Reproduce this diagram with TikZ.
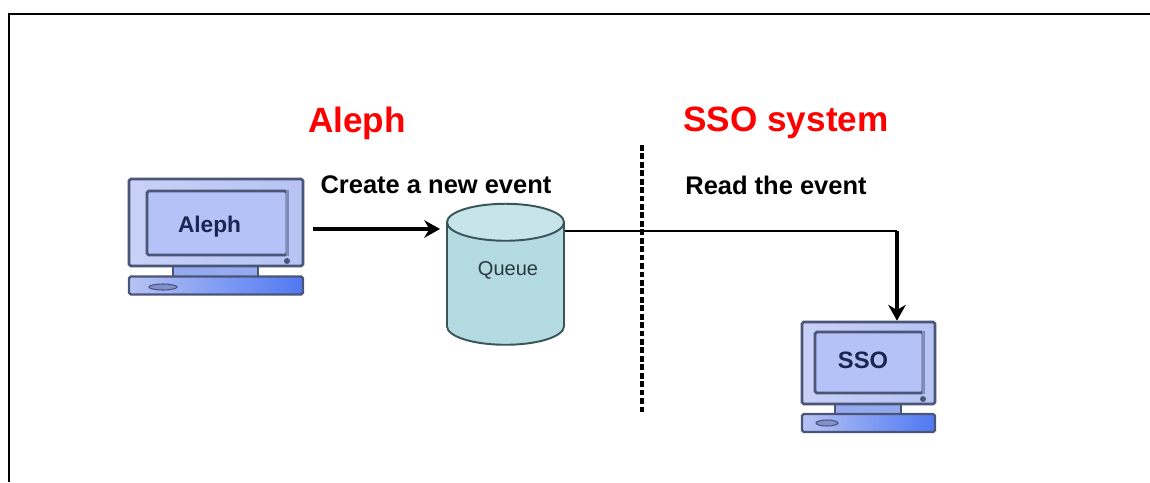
\documentclass[tikz,border=0pt]{standalone}
\usepackage{fontspec}
\setmainfont{Liberation Sans}
\usetikzlibrary{arrows.meta,shapes.geometric}
\definecolor{monitoredge}{HTML}{4A5578}
\definecolor{monitorfill}{HTML}{B6C3F4}
\definecolor{monitorlight}{HTML}{C8D1F6}
\definecolor{screenfill}{HTML}{B4C2F8}
\definecolor{screenshade}{HTML}{7F8CB8}
\definecolor{basedeep}{HTML}{4F78F2}
\definecolor{neckfill}{HTML}{96AAF0}
\definecolor{labelnavy}{HTML}{1C2450}
\definecolor{queueedge}{HTML}{3A5558}
\definecolor{queuebody}{HTML}{B4DBE2}
\definecolor{queuetop}{HTML}{C6E4E9}
\tikzset{
  monitor/.style={draw=monitoredge,line width=1.5pt,rounded corners=1pt,left color=monitorlight,right color=monitorfill,inner sep=0pt},
  screen/.style={draw=monitoredge,line width=1.6pt,rounded corners=1pt,fill=screenfill,inner sep=0pt},
  neck/.style={draw=monitoredge,line width=1.2pt,fill=neckfill,inner sep=0pt},
  base/.style={draw=monitoredge,line width=1.3pt,rounded corners=1pt,left color=monitorfill,right color=basedeep,inner sep=0pt},
  slot/.style={ellipse,draw=monitoredge,line width=0.6pt,fill=neckfill!70!monitoredge,inner sep=0pt},
  lamp/.style={circle,fill=monitoredge,inner sep=0pt,minimum size=0.12cm},
  title/.style={text=red,font=\fontsize{20}{24}\selectfont\bfseries,inner sep=0pt},
  caption/.style={font=\fontsize{14.5}{17}\selectfont\bfseries,inner sep=0pt},
  devicetext/.style={text=labelnavy,inner sep=0pt},
  flow/.style={line width=2.6pt,-{Stealth[length=9pt,width=10pt]}}
}
\begin{document}
\begin{tikzpicture}[scale=0.2]
  \useasboundingbox (0,0) rectangle (115,-48.2);
  % page frame, open at the right and the bottom
  \draw [black,line width=1.15pt] (0.9,-48.2) -- (0.9,-1.4) -- (115,-1.4);
  % titles
  \node [title] (alephtitle) at (35.7,-12.35) {Aleph};
  \node [title] (ssotitle) at (78.6,-12.3) {SSO system};
  \node [caption] (createtext) at (43.6,-18.5) {Create a new event};
  \node [caption] (readtext) at (77.6,-18.5) {Read the event};
  % left computer
  \node [neck,minimum width=1.7cm,minimum height=0.28cm] (alephneck) at (21.55,-27.1) {};
  \node [base,minimum width=3.48cm,minimum height=0.36cm] (alephbase) at (21.6,-28.55) {};
  \node [slot,minimum width=0.56cm,minimum height=0.12cm] (alephslot) at (16.3,-28.7) {};
  \node [monitor,minimum width=3.48cm,minimum height=1.74cm] (aleph) at (21.6,-22.25) {};
  \node [screen,minimum width=2.8cm,minimum height=1.28cm] (alephscreen) at (21.7,-22.3) {};
  \node [lamp] (alephlamp) at (28.7,-26.1) {};
  \draw [screenshade,line width=1.8pt] ([xshift=-2.4pt,yshift=-1pt]alephscreen.north east) -- ([xshift=-2.4pt,yshift=1pt]alephscreen.south east);
  \node [devicetext,font=\fontsize{12.9}{15}\selectfont\bfseries] (alephtext) at (20.95,-22.7) {Aleph};
  % queue
  \node [cylinder,shape border rotate=90,aspect=0.615,draw=queueedge,line width=1.1pt,cylinder uses custom fill,
    cylinder body fill=queuebody,cylinder end fill=queuetop,minimum width=2.34cm,minimum height=2.82cm,inner sep=0pt,
    font=\fontsize{11.4}{14}\selectfont] (queue) at (50.55,-28.4) {\phantom{Queue}};
  \node [text=queueedge!70!black,inner sep=0pt,font=\fontsize{11.4}{14}\selectfont] (queuetext) at (50.8,-27) {Queue};
  % right computer
  \node [neck,minimum width=1.32cm,minimum height=0.24cm] (ssoneck) at (86.8,-40.9) {};
  \node [base,minimum width=2.66cm,minimum height=0.36cm] (ssobase) at (86.85,-42.3) {};
  \node [slot,minimum width=0.44cm,minimum height=0.12cm] (ssoslot) at (82.7,-42.3) {};
  \node [monitor,minimum width=2.66cm,minimum height=1.64cm] (sso) at (86.85,-36.3) {};
  \node [screen,minimum width=2.16cm,minimum height=1.22cm] (ssoscreen) at (86.9,-36.25) {};
  \node [lamp] (ssolamp) at (92.3,-39.9) {};
  \draw [screenshade,line width=1.8pt] ([xshift=-2.4pt,yshift=-1pt]ssoscreen.north east) -- ([xshift=-2.4pt,yshift=1pt]ssoscreen.south east);
  \node [devicetext,font=\fontsize{13.5}{16}\selectfont\bfseries] (ssotext) at (86.3,-36) {SSO};
  % divider
  \draw [black,line width=1.9pt,dash pattern=on 3.3pt off 1.5pt] (64.2,-14.5) -- (64.2,-41.4);
  % connectors
  \coordinate (alephport) at (31.3,-22.9);
  \coordinate (elbow) at (89.7,-23.1);
  \draw [flow,shorten >=3.4pt] (alephport) -- (alephport -| queue.west);
  \draw [black,line width=1.6pt] (queue.east |- elbow) -- (elbow);
  \draw [flow] (elbow) -- (elbow |- sso.north);
\end{tikzpicture}
\end{document}
